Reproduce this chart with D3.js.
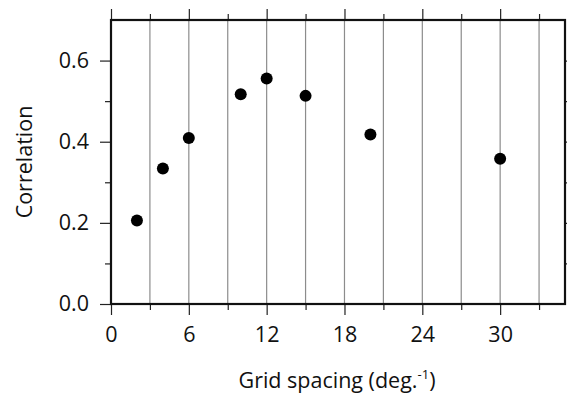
<!DOCTYPE html>
<html>
<head>
<meta charset="utf-8">
<script src="https://cdn.jsdelivr.net/npm/d3@7"></script>
<style>
  html, body { margin: 0; padding: 0; background: #fff; }
  svg text { font-family: "Open Sans", "Noto Sans", sans-serif; fill: #111; }
</style>
</head>
<body>
<div id="chart"></div>
<script>
// grid spacing (deg.^-1) and correlation
const spacing = [2, 4, 6, 10, 12, 15, 20, 30];
const correlation = [0.206, 0.334, 0.409, 0.517, 0.556, 0.513, 0.418, 0.358];
const xTicks = [0, 6, 12, 18, 24, 30];
const yTicks = [0.0, 0.2, 0.4, 0.6];

const width = 567, height = 395;
const margin = { left: 111, top: 20, right: 2, bottom: 91 };

const svg = d3.select("#chart").append("svg")
  .attr("width", width)
  .attr("height", height);

const x = d3.scaleLinear().domain([0, 35]).range([margin.left, width - margin.right]);
const y = d3.scaleLinear().domain([0, 0.7]).range([height - margin.bottom, margin.top]);

const x0 = x.range()[0], x1 = x.range()[1];
const y0 = y.range()[0], y1 = y.range()[1];

// vertical grid every 3 units
const gridVals = d3.range(3, 35, 3);
svg.append("g")
  .selectAll("line")
  .data(gridVals)
  .join("line")
  .attr("x1", d => x(d)).attr("x2", d => x(d))
  .attr("y1", y1).attr("y2", y0)
  .attr("stroke", "#8c8c8c")
  .attr("stroke-width", 1.2);

// bottom axis: major every 6, minor every 3
const xAxisMajor = d3.axisBottom(x).tickValues(xTicks).tickSize(11).tickPadding(12).tickFormat(d3.format("d"));
const xAxisMinor = d3.axisBottom(x).tickValues(gridVals.filter(d => d % 6 !== 0)).tickSize(6).tickFormat("");
const gxMinor = svg.append("g").attr("transform", `translate(0,${y0})`).call(xAxisMinor);
const gx = svg.append("g").attr("transform", `translate(0,${y0})`).call(xAxisMajor);

// top axis ticks (no labels)
const topMajor = d3.axisTop(x).tickValues(xTicks).tickSize(11).tickFormat("");
const topMinor = d3.axisTop(x).tickValues(gridVals.filter(d => d % 6 !== 0)).tickSize(6).tickFormat("");
const gtMinor = svg.append("g").attr("transform", `translate(0,${y1})`).call(topMinor);
const gt = svg.append("g").attr("transform", `translate(0,${y1})`).call(topMajor);

// left axis: major every 0.2, minor every 0.1
const yAxisMajor = d3.axisLeft(y).tickValues(yTicks).tickSize(11).tickPadding(11).tickFormat(d3.format(".1f"));
const yAxisMinor = d3.axisLeft(y).tickValues([0.1, 0.3, 0.5]).tickSize(6).tickFormat("");
const gyMinor = svg.append("g").attr("transform", `translate(${x0},0)`).call(yAxisMinor);
const gy = svg.append("g").attr("transform", `translate(${x0},0)`).call(yAxisMajor);

// right axis small ticks
const yRight = d3.axisRight(y).tickValues(d3.range(0.1, 0.7, 0.1)).tickSize(2).tickFormat("");
const gr = svg.append("g").attr("transform", `translate(${x1},0)`).call(yRight);

[gx, gxMinor, gt, gtMinor, gy, gyMinor, gr].forEach(g => {
  g.select(".domain").remove();
  g.selectAll(".tick line").attr("stroke", "#222").attr("stroke-width", 1.2);
  g.selectAll(".tick text").attr("font-size", 21.5).attr("font-family", "\"Open Sans\", sans-serif").attr("fill", "#111");
});

// frame
svg.append("rect")
  .attr("x", x0).attr("y", y1)
  .attr("width", x1 - x0).attr("height", y0 - y1)
  .attr("fill", "none")
  .attr("stroke", "#111")
  .attr("stroke-width", 2.2);

// points
svg.append("g")
  .selectAll("circle")
  .data(spacing.map((s, i) => ({ s, c: correlation[i] })))
  .join("circle")
  .attr("cx", d => x(d.s))
  .attr("cy", d => y(d.c))
  .attr("r", 6)
  .attr("fill", "#000");

// axis titles
const xt = svg.append("text")
  .attr("x", (x0 + x1) / 2 - 1)
  .attr("y", 388)
  .attr("text-anchor", "middle")
  .attr("font-size", 21.5);
xt.append("tspan").text("Grid spacing (deg.");
xt.append("tspan").attr("font-size", 13).attr("dy", -9).text("-1");
xt.append("tspan").attr("dy", 9).text(")");

svg.append("text")
  .attr("transform", `translate(32,${(y0 + y1) / 2}) rotate(-90)`)
  .attr("text-anchor", "middle")
  .attr("font-size", 21.5)
  .text("Correlation");
</script>
</body>
</html>
